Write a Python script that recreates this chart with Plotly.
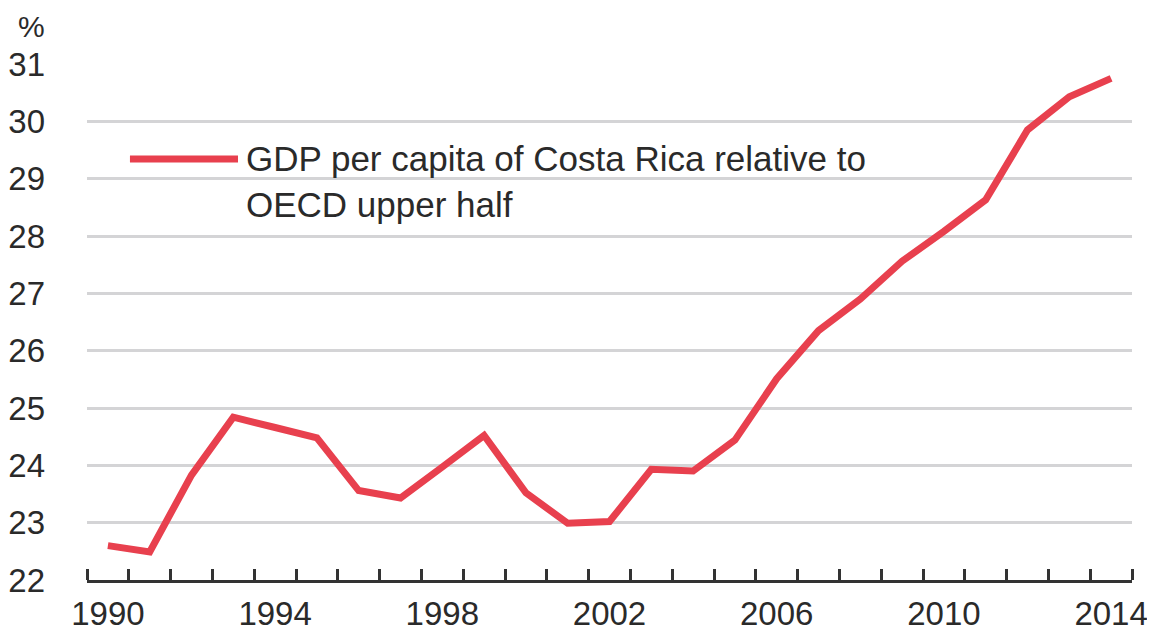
import plotly.graph_objects as go

years = list(range(1990, 2015))
gdp_rel = [22.60, 22.49, 23.83, 24.84, 24.66, 24.48, 23.56, 23.43, 23.97, 24.52,
           23.52, 22.99, 23.02, 23.93, 23.90, 24.44, 25.51, 26.35, 26.90, 27.56,
           28.08, 28.63, 29.85, 30.43, 30.75]
x_labels = [1990, 1994, 1998, 2002, 2006, 2010, 2014]
y_ticks = list(range(22, 32))
series_name = "GDP per capita of Costa Rica relative to<br>OECD upper half"

RED = "#E8404E"
TXT = "#2a2a2a"
FONT = "Liberation Sans Narrow, Arial Narrow, Liberation Sans, Arial"

fig = go.Figure()
fig.add_trace(go.Scatter(x=years, y=gdp_rel, mode="lines",
                         line=dict(color=RED, width=7), name=series_name,
                         showlegend=False, cliponaxis=False))

fig.update_layout(
    width=1147, height=628,
    margin=dict(l=79, r=23, t=56, b=56, autoexpand=False),
    paper_bgcolor="white", plot_bgcolor="white",
    font=dict(family=FONT, size=33, color=TXT),
    xaxis=dict(range=[1989.5, 2014.5], tickmode="array", tickvals=x_labels,
               ticktext=[str(v) for v in x_labels], ticks="",
               showgrid=False, zeroline=False, automargin=False,
               showline=True, linecolor="#333333", linewidth=3,
               ticklabelstandoff=2,
               minor=dict(tick0=1989.5, dtick=1, ticks="inside", ticklen=11,
                          tickwidth=3, tickcolor="#333333", showgrid=False)),
    yaxis=dict(range=[22, 31], tickmode="array", tickvals=y_ticks,
               ticks="", showgrid=True, gridcolor="#d4d4d6", gridwidth=3,
               zeroline=False, showline=False, ticklabelstandoff=41,
               automargin=False),
)

# legend drawn as key line + label
fig.add_shape(type="line", xref="paper", yref="paper",
              x0=0.0411, x1=0.1445, y0=0.816, y1=0.816,
              line=dict(color=RED, width=7))
fig.add_annotation(xref="paper", yref="paper", x=0.150, y=0.859,
                   xanchor="left", yanchor="top", align="left",
                   text=series_name, showarrow=False,
                   font=dict(family=FONT, size=35, color=TXT))
fig.add_annotation(xref="paper", yref="paper", x=-0.067, y=1.073,
                   xanchor="left", yanchor="middle", text="%", showarrow=False,
                   borderpad=0,
                   font=dict(family=FONT, size=30, color=TXT))

fig.write_html("out.html")
